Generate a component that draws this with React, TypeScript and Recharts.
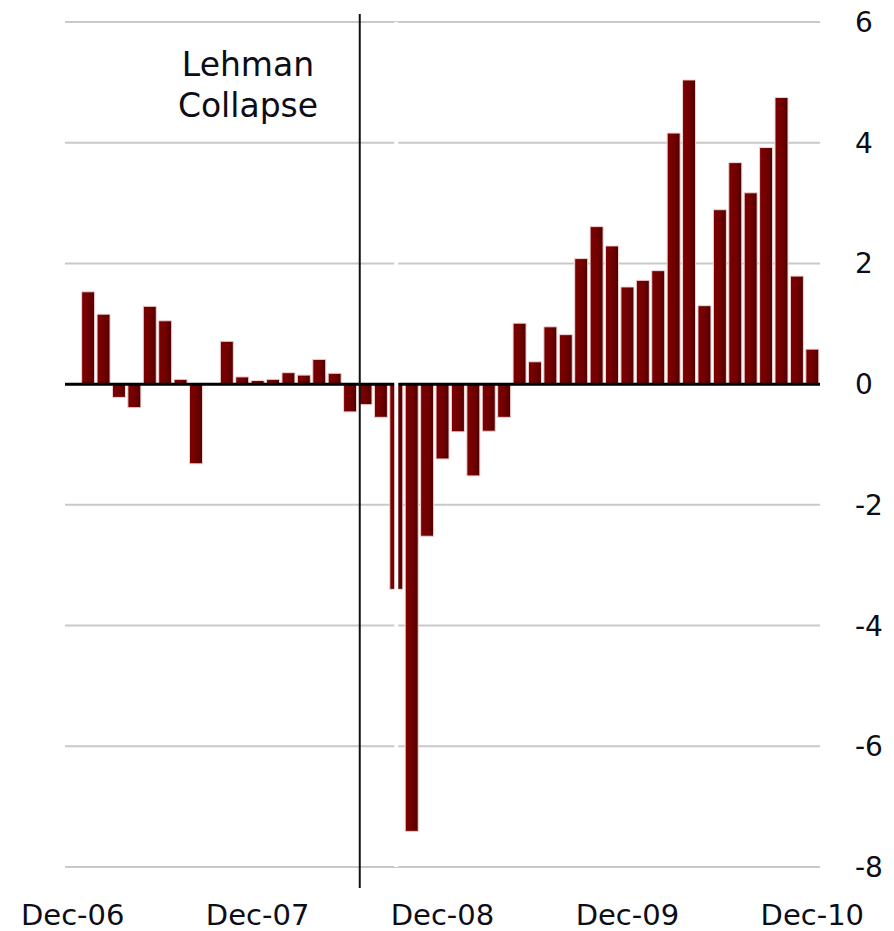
import {
  BarChart,
  Bar,
  XAxis,
  YAxis,
  CartesianGrid,
  ReferenceLine,
} from 'recharts'

// monthly % change, Dec-06 .. Dec-10 (Dec-06 has no bar)
const months = [
  'Dec-06', 'Jan-07', 'Feb-07', 'Mar-07', 'Apr-07', 'May-07', 'Jun-07', 'Jul-07', 'Aug-07', 'Sep-07', 'Oct-07', 'Nov-07',
  'Dec-07', 'Jan-08', 'Feb-08', 'Mar-08', 'Apr-08', 'May-08', 'Jun-08', 'Jul-08', 'Aug-08', 'Sep-08', 'Oct-08', 'Nov-08',
  'Dec-08', 'Jan-09', 'Feb-09', 'Mar-09', 'Apr-09', 'May-09', 'Jun-09', 'Jul-09', 'Aug-09', 'Sep-09', 'Oct-09', 'Nov-09',
  'Dec-09', 'Jan-10', 'Feb-10', 'Mar-10', 'Apr-10', 'May-10', 'Jun-10', 'Jul-10', 'Aug-10', 'Sep-10', 'Oct-10', 'Nov-10',
  'Dec-10',
]

const values = [
  null, 1.53, 1.16, -0.22, -0.39, 1.29, 1.05, 0.08, -1.32, 0.01, 0.71, 0.12,
  0.06, 0.08, 0.19, 0.15, 0.41, 0.18, -0.46, -0.34, -0.55, -3.4, -7.41, -2.52,
  -1.24, -0.79, -1.52, -0.78, -0.55, 1.01, 0.37, 0.95, 0.82, 2.08, 2.61, 2.29,
  1.61, 1.72, 1.88, 4.16, 5.04, 1.3, 2.89, 3.67, 3.17, 3.92, 4.75, 1.79,
  0.58,
]

const yTicks = [-8, -6, -4, -2, 0, 2, 4, 6]

const lehmanMonth = 'Jul-08'
const spliceMonth = 'Sep-08'

const data = months.map((m, i) => ({ month: m, value: values[i] }))

const font = '"DejaVu Sans", Verdana, sans-serif'

function XTick({ x, y, payload }: any) {
  return (
    <text x={x} y={y + 58} textAnchor="middle" fontSize={29} fontFamily={font} fill="#0d0d17">
      {payload.value}
    </text>
  )
}

function YTick({ y, payload }: any) {
  return (
    <text x={855} y={y + 10} textAnchor="start" fontSize={28} fontFamily={font} fill="#0d0d17">
      {payload.value}
    </text>
  )
}

function LehmanLine(props: any) {
  const top = Math.min(props.y1, props.y2)
  const bottom = Math.max(props.y1, props.y2)
  return (
    <line x1={props.x1 + 2} x2={props.x2 + 2} y1={top - 8} y2={bottom + 21} stroke="#111" strokeWidth={2} />
  )
}

export default function App() {
  return (
    <div style={{ position: 'absolute', left: 0, top: 0, width: 894, height: 931, background: '#fff' }}>
      <BarChart
        width={894}
        height={931}
        data={data}
        margin={{ top: 22, right: 0, bottom: 0, left: 65 }}
        barCategoryGap="8%"
      >
        <defs>
          <linearGradient id="barFill" x1="0" y1="0" x2="1" y2="0">
            <stop offset="0%" stopColor="#7c0000" />
            <stop offset="50%" stopColor="#740000" />
            <stop offset="100%" stopColor="#4e0000" />
          </linearGradient>
        </defs>
        <CartesianGrid vertical={false} stroke="#c9c9c9" strokeWidth={2} />
        <XAxis
          dataKey="month"
          interval={11}
          axisLine={false}
          tickLine={false}
          tickSize={0}
          tickMargin={0}
          height={64}
          tick={<XTick />}
        />
        <YAxis
          orientation="right"
          domain={[-8, 6]}
          ticks={yTicks}
          interval={0}
          axisLine={false}
          tickLine={false}
          width={74}
          tick={<YTick />}
        />
        <Bar dataKey="value" fill="url(#barFill)" stroke="#f0d4d4" strokeWidth={1} isAnimationActive={false} />
        <ReferenceLine y={0} stroke="#000" strokeWidth={3} />
        <ReferenceLine x={spliceMonth} stroke="#fff" strokeWidth={4} position="middle" />
        <ReferenceLine x={lehmanMonth} position="start" shape={<LehmanLine />} />
      </BarChart>
      <div
        style={{
          position: 'absolute',
          left: 148,
          top: 44,
          width: 200,
          textAlign: 'center',
          fontFamily: font,
          fontSize: 33,
          lineHeight: '41px',
          color: '#0d0d17',
        }}
      >
        Lehman
        <br />
        Collapse
      </div>
    </div>
  )
}
